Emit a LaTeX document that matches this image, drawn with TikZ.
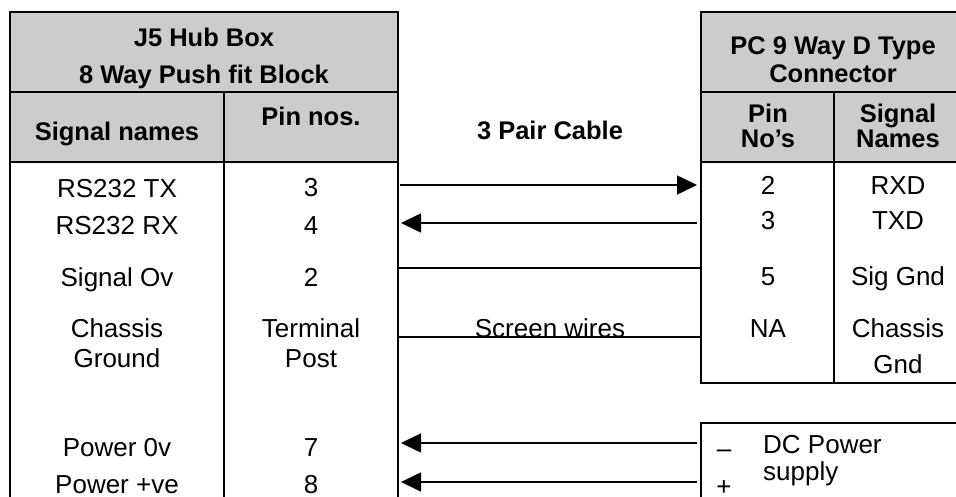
\documentclass[tikz,border=0pt]{standalone}
\usepackage{fontspec}
\setmainfont{Liberation Sans}
\usetikzlibrary{arrows.meta,calc}
\definecolor{hdrgray}{HTML}{CCCCCC}

\begin{document}
\begin{tikzpicture}[x=1pt, y=-1pt, >={Triangle[length=20pt,width=19pt]},
		every node/.style={inner sep=0pt, anchor=base, font=\fontsize{26}{30}\selectfont},
		head/.style={align=center, font=\fontsize{25.5}{#1}\selectfont\bfseries},
		head/.default=30,
		cell/.style={align=center, font=\fontsize{26}{#1}\selectfont},
		cell/.default=30,
		frame/.style={line width=2pt},
		wire/.style={line width=1.6pt}]
			
			% page size
			\useasboundingbox (0,0) rectangle (956,497);
			\clip (0,0) rectangle (956,497);
			
			% parameters
			\def\tabtop{12}     % top of both tables
			\def\titlebot{92}   % under the title row
			\def\headbot{162}   % under the column heads
			\def\hubL{10}       % J5 table left edge
			\def\hubM{224}      % J5 column divider
			\def\hubR{398}      % J5 table right edge
			\def\pcL{701}       % PC table left edge
			\def\pcM{834}       % PC column divider
			\def\pcR{962}       % PC table right edge (off the page)
			\def\pcbot{383}     % PC table bottom
			\def\dctop{423}     % top of the DC power box
			
			% J5 hub box table
			\fill[hdrgray] (\hubL,\tabtop) rectangle (\hubR,\headbot);
			\draw[frame] (\hubL,510) -- (\hubL,\tabtop) -- (\hubR,\tabtop) -- (\hubR,510);
			\draw[frame] (\hubL,\titlebot) -- (\hubR,\titlebot);
			\draw[frame] (\hubL,\headbot) -- (\hubR,\headbot);
			\draw[frame] (\hubM,\titlebot) -- (\hubM,510);
			
			% PC connector table
			\fill[hdrgray] (\pcL,\tabtop) rectangle (\pcR,\headbot);
			\draw[frame] (\pcL,\tabtop) rectangle (\pcR,\pcbot);
			\draw[frame] (\pcL,\titlebot) -- (\pcR,\titlebot);
			\draw[frame] (\pcL,\headbot) -- (\pcR,\headbot);
			\draw[frame] (\pcM,\titlebot) -- (\pcM,\pcbot);
			
			% DC power box
			\draw[frame] (\pcL,510) |- (\pcR,\dctop);
			
			% headings (multi-line nodes sit on their last line)
			\node[head=37] (hubtitle) at (204,84) {J5 Hub Box\\8 Way Push fit Block};
			\node[head] (hubsig) at (117,141) {Signal names};
			\node[head] (hubpin) at (311,126) {Pin nos.};
			\node[head] (cable) at (550,140) {3 Pair Cable};
			\node[head=28] (pctitle) at (833,83) {PC 9 Way D Type\\Connector};
			\node[head=25] (pcpin) at (768,148) {Pin\\No's};
			\node[head=25] (pcsig) at (898,148) {Signal\\Names};
			
			% J5 rows
			\node (sTX) at (117,198) {RS232 TX};
			\node (pTX) at (311,197) {3};
			\node (sRX) at (117,235) {RS232 RX};
			\node (pRX) at (311,235) {4};
			\node (sSIG) at (117,286) {Signal Ov};
			\node (pSIG) at (311,286) {2};
			\node[cell=30] (sCH) at (117,367) {Chassis\\Ground};
			\node[cell=30] (pCH) at (311,367) {Terminal\\Post};
			\node (sPN) at (117,456) {Power 0v};
			\node (pPN) at (311,456) {7};
			\node (sPP) at (117,493) {Power +ve};
			\node (pPP) at (311,493) {8};
			
			% PC rows
			\node (qRXD) at (768,195) {2};
			\node (nRXD) at (898,195) {RXD};
			\node (qTXD) at (768,230) {3};
			\node (nTXD) at (898,230) {TXD};
			\node (qGND) at (768,285) {5};
			\node (nGND) at (898,285) {Sig Gnd};
			\node (qCH) at (768,337) {NA};
			\node[cell=36] (nCH) at (898,373) {Chassis\\Gnd};
			
			% DC supply
			\node (minus) at (724,457) {–};
			\node (plus) at (724,495) {+};
			\node[cell=27, align=left, anchor=base west] (dc) at (763,480) {DC Power\\supply};
			
			% wire ends on the table edges
			\coordinate (H1) at (\hubR,185);  \coordinate (P1) at (\pcL,185);
			\coordinate (H2) at (\hubR,223);  \coordinate (P2) at (\pcL,223);
			\coordinate (H3) at (\hubR,268);  \coordinate (P3) at (\pcL,268);
			\coordinate (H4) at (\hubR,337);  \coordinate (P4) at (\pcL,337);
			\coordinate (H5) at (\hubR,443);  \coordinate (P5) at (\pcL,443);
			\coordinate (H6) at (\hubR,482);  \coordinate (P6) at (\pcL,482);
			
			% cable
			\draw[wire, ->, shorten <=2pt, shorten >=4pt] (H1) -- (P1);
			\draw[wire, ->, shorten <=4pt, shorten >=3pt] (P2) -- (H2);
			\draw[line width=1.3pt] (H3) -- (P3);
			\draw[line width=1.3pt] (H4) -- (P4);
			\node (screen) at (550,337) {Screen wires};
			\draw[wire, ->, shorten <=4pt, shorten >=3pt] (P5) -- (H5);
			\draw[wire, ->, shorten <=4pt, shorten >=3pt] (P6) -- (H6);
		\end{tikzpicture}
\end{document}
